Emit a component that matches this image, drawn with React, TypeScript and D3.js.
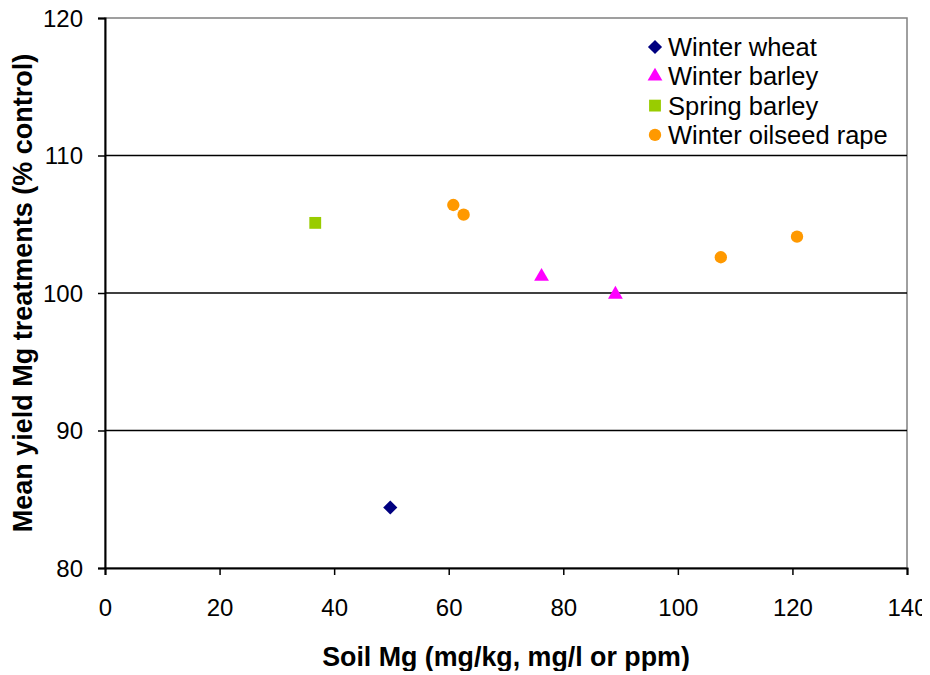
import { useEffect, useRef } from 'react';
import * as d3 from 'd3';

const seriesNames = ['Winter wheat', 'Winter barley', 'Spring barley', 'Winter oilseed rape'];
const seriesColors = ['#000080', '#ff00ff', '#99cc00', '#ff9900'];

const winterWheat = [{ x: 49.8, y: 84.4 }];
const winterBarley = [{ x: 76.2, y: 101.2 }, { x: 89.1, y: 99.9 }];
const springBarley = [{ x: 36.7, y: 105.1 }];
const oilseedRape = [
  { x: 60.8, y: 106.4 },
  { x: 62.6, y: 105.7 },
  { x: 107.5, y: 102.6 },
  { x: 120.8, y: 104.1 },
];

const xTicks = [0, 20, 40, 60, 80, 100, 120, 140];
const yTicks = [80, 90, 100, 110, 120];

// marker shape per series (diamond is a rotated square)
const markers = [
  { type: d3.symbolSquare, size: 100, rotate: 45 },
  { type: d3.symbolTriangle, size: 95, rotate: 0 },
  { type: d3.symbolSquare, size: 140, rotate: 0 },
  { type: d3.symbolCircle, size: 120, rotate: 0 },
];

export default function App() {
  const svgRef = useRef<SVGSVGElement>(null);

  useEffect(() => {
    const svg = d3.select(svgRef.current);
    svg.selectAll('*').remove();

    const width = 930;
    const height = 675;
    const left = 105, right = 907, top = 18, bottom = 568;

    const x = d3.scaleLinear().domain([0, 140]).range([left, right]);
    const y = d3.scaleLinear().domain([80, 120]).range([bottom, top]);

    svg.attr('width', width).attr('height', height);
    const font = 'Liberation Sans, Arial, sans-serif';

    // plot border (grey top/right)
    svg.append('rect')
      .attr('x', left).attr('y', top)
      .attr('width', right - left).attr('height', bottom - top)
      .attr('fill', 'none').attr('stroke', '#808080').attr('stroke-width', 1.5);

    // gridlines
    svg.append('g')
      .selectAll('line')
      .data(yTicks.filter(t => t > 80 && t < 120))
      .enter()
      .append('line')
      .attr('x1', left).attr('x2', right)
      .attr('y1', d => y(d)).attr('y2', d => y(d))
      .attr('stroke', '#000').attr('stroke-width', 1.5);

    // axes
    const yAxis = svg.append('g')
      .attr('transform', `translate(${left},0)`)
      .call(d3.axisLeft(y).tickValues(yTicks).tickSize(7).tickPadding(15));
    const xAxis = svg.append('g')
      .attr('transform', `translate(0,${bottom})`)
      .call(d3.axisBottom(x).tickValues(xTicks).tickSize(7).tickPadding(24));

    [xAxis, yAxis].forEach(a => {
      a.select('.domain').attr('stroke', '#000').attr('stroke-width', 2);
      a.selectAll('.tick line').attr('stroke', '#000').attr('stroke-width', 1.5);
      a.selectAll('.tick text')
        .attr('font-family', font)
        .attr('font-size', 24)
        .attr('fill', '#000');
    });
    yAxis.selectAll('.tick text').attr('dy', '0.35em');

    // axis titles
    svg.append('text')
      .attr('x', (left + right) / 2)
      .attr('y', 666)
      .attr('text-anchor', 'middle')
      .attr('font-family', font)
      .attr('font-weight', 'bold')
      .attr('font-size', 26.8)
      .text('Soil Mg (mg/kg, mg/l or ppm)');

    svg.append('text')
      .attr('transform', `translate(32,${(top + bottom) / 2}) rotate(-90)`)
      .attr('text-anchor', 'middle')
      .attr('font-family', font)
      .attr('font-weight', 'bold')
      .attr('font-size', 27)
      .text('Mean yield Mg treatments (% control)');

    // points
    const allSeries = [winterWheat, winterBarley, springBarley, oilseedRape];
    allSeries.forEach((data, i) => {
      const m = markers[i];
      svg.append('g')
        .selectAll('path')
        .data(data)
        .enter()
        .append('path')
        .attr('transform', d => `translate(${x(d.x)},${y(d.y)}) rotate(${m.rotate})`)
        .attr('d', d3.symbol().type(m.type).size(m.size)())
        .attr('fill', seriesColors[i]);
    });

    // legend
    const legend = svg.append('g').attr('transform', 'translate(655,47)');
    seriesNames.forEach((name, i) => {
      const m = markers[i];
      const row = legend.append('g').attr('transform', `translate(0,${i * 29.3})`);
      row.append('path')
        .attr('transform', `rotate(${m.rotate})`)
        .attr('d', d3.symbol().type(m.type).size(m.size)())
        .attr('fill', seriesColors[i]);
      row.append('text')
        .attr('x', 13)
        .attr('dy', '0.35em')
        .attr('font-family', font)
        .attr('font-size', 25.5)
        .text(name);
    });
  }, []);

  return (
    <div style={{ margin: -8 }}>
      <svg ref={svgRef} />
    </div>
  );
}
